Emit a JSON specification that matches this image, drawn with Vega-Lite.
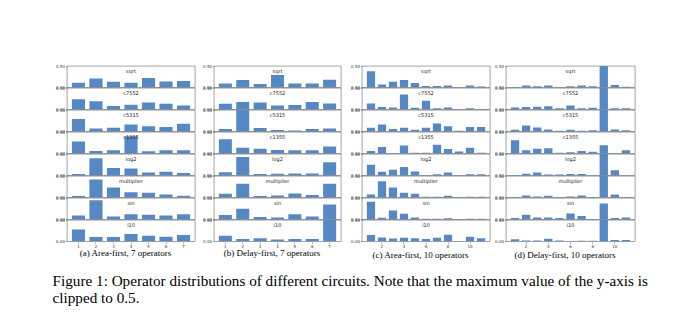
{
  "$schema": "https://vega.github.io/schema/vega-lite/v6.json",
  "padding": {"left": 52, "top": 64, "right": 0, "bottom": 0},
  "background": "white",
  "config": {
    "view": {"stroke": "#666", "strokeWidth": 0.6},
    "axis": {"labelFont": "DejaVu Sans", "labelFontSize": 4, "labelColor": "#333", "tickSize": 1.5, "tickColor": "#444", "tickWidth": 0.5, "domain": false, "grid": false, "title": null, "labelPadding": 1},
    "facet": {"spacing": 0}
  },
  "title": {"text": ["Figure 1: Operator distributions of different circuits. Note that the maximum value of the y-axis is", "clipped to 0.5."], "orient": "bottom", "anchor": "start", "font": "Liberation Serif", "fontSize": 15.2, "fontWeight": "normal", "lineHeight": 17, "offset": 14, "color": "#000", "dx": -3},
  "datasets": {
    "a": [
      {"c":"sqrt","o":1,"v":0.11},{"c":"sqrt","o":2,"v":0.21},{"c":"sqrt","o":3,"v":0.13},{"c":"sqrt","o":4,"v":0.11},{"c":"sqrt","o":5,"v":0.22},{"c":"sqrt","o":6,"v":0.14},{"c":"sqrt","o":7,"v":0.15},
      {"c":"c7552","o":1,"v":0.24},{"c":"c7552","o":2,"v":0.19},{"c":"c7552","o":3,"v":0.08},{"c":"c7552","o":4,"v":0.11},{"c":"c7552","o":5,"v":0.16},{"c":"c7552","o":6,"v":0.13},{"c":"c7552","o":7,"v":0.09},
      {"c":"c5315","o":1,"v":0.29},{"c":"c5315","o":2,"v":0.065},{"c":"c5315","o":3,"v":0.085},{"c":"c5315","o":4,"v":0.16},{"c":"c5315","o":5,"v":0.12},{"c":"c5315","o":6,"v":0.10},{"c":"c5315","o":7,"v":0.18},
      {"c":"c1355","o":1,"v":0.28},{"c":"c1355","o":2,"v":0.055},{"c":"c1355","o":3,"v":0.075},{"c":"c1355","o":4,"v":0.40},{"c":"c1355","o":5,"v":0.05},{"c":"c1355","o":6,"v":0.075},{"c":"c1355","o":7,"v":0.075},
      {"c":"log2","o":1,"v":0.03},{"c":"log2","o":2,"v":0.40},{"c":"log2","o":3,"v":0.17},{"c":"log2","o":4,"v":0.16},{"c":"log2","o":5,"v":0.065},{"c":"log2","o":6,"v":0.085},{"c":"log2","o":7,"v":0.055},
      {"c":"multiplier","o":1,"v":0.03},{"c":"multiplier","o":2,"v":0.42},{"c":"multiplier","o":3,"v":0.23},{"c":"multiplier","o":4,"v":0.12},{"c":"multiplier","o":5,"v":0.11},{"c":"multiplier","o":6,"v":0.065},{"c":"multiplier","o":7,"v":0.04},
      {"c":"sin","o":1,"v":0.09},{"c":"sin","o":2,"v":0.45},{"c":"sin","o":3,"v":0.065},{"c":"sin","o":4,"v":0.12},{"c":"sin","o":5,"v":0.11},{"c":"sin","o":6,"v":0.09},{"c":"sin","o":7,"v":0.12},
      {"c":"i10","o":1,"v":0.28},{"c":"i10","o":2,"v":0.10},{"c":"i10","o":3,"v":0.10},{"c":"i10","o":4,"v":0.17},{"c":"i10","o":5,"v":0.13},{"c":"i10","o":6,"v":0.11},{"c":"i10","o":7,"v":0.15}
    ],
    "b": [
      {"c":"sqrt","o":1,"v":0.09},{"c":"sqrt","o":2,"v":0.17},{"c":"sqrt","o":3,"v":0.08},{"c":"sqrt","o":4,"v":0.29},{"c":"sqrt","o":5,"v":0.09},{"c":"sqrt","o":6,"v":0.09},{"c":"sqrt","o":7,"v":0.18},
      {"c":"c7552","o":1,"v":0.13},{"c":"c7552","o":2,"v":0.17},{"c":"c7552","o":3,"v":0.16},{"c":"c7552","o":4,"v":0.09},{"c":"c7552","o":5,"v":0.10},{"c":"c7552","o":6,"v":0.17},{"c":"c7552","o":7,"v":0.14},
      {"c":"c5315","o":1,"v":0.055},{"c":"c5315","o":2,"v":0.6},{"c":"c5315","o":3,"v":0.08},{"c":"c5315","o":4,"v":0.03},{"c":"c5315","o":5,"v":0.02},{"c":"c5315","o":6,"v":0.055},{"c":"c5315","o":7,"v":0.07},
      {"c":"c1355","o":1,"v":0.33},{"c":"c1355","o":2,"v":0.13},{"c":"c1355","o":3,"v":0.11},{"c":"c1355","o":4,"v":0.08},{"c":"c1355","o":5,"v":0.075},{"c":"c1355","o":6,"v":0.075},{"c":"c1355","o":7,"v":0.16},
      {"c":"log2","o":1,"v":0.075},{"c":"log2","o":2,"v":0.43},{"c":"log2","o":3,"v":0.03},{"c":"log2","o":4,"v":0.04},{"c":"log2","o":5,"v":0.045},{"c":"log2","o":6,"v":0.045},{"c":"log2","o":7,"v":0.31},
      {"c":"multiplier","o":1,"v":0.085},{"c":"multiplier","o":2,"v":0.32},{"c":"multiplier","o":3,"v":0.03},{"c":"multiplier","o":4,"v":0.045},{"c":"multiplier","o":5,"v":0.09},{"c":"multiplier","o":6,"v":0.055},{"c":"multiplier","o":7,"v":0.32},
      {"c":"sin","o":1,"v":0.10},{"c":"sin","o":2,"v":0.25},{"c":"sin","o":3,"v":0.055},{"c":"sin","o":4,"v":0.045},{"c":"sin","o":5,"v":0.12},{"c":"sin","o":6,"v":0.065},{"c":"sin","o":7,"v":0.35},
      {"c":"i10","o":1,"v":0.13},{"c":"i10","o":2,"v":0.055},{"c":"i10","o":3,"v":0.075},{"c":"i10","o":4,"v":0.045},{"c":"i10","o":5,"v":0.055},{"c":"i10","o":6,"v":0.055},{"c":"i10","o":7,"v":0.6}
    ],
    "c": [
      {"c":"sqrt","o":1,"v":0.38},{"c":"sqrt","o":2,"v":0.065},{"c":"sqrt","o":3,"v":0.13},{"c":"sqrt","o":4,"v":0.175},{"c":"sqrt","o":5,"v":0.10},{"c":"sqrt","o":6,"v":0.03},{"c":"sqrt","o":7,"v":0.03},{"c":"sqrt","o":8,"v":0.045},{"c":"sqrt","o":9,"v":0.01},{"c":"sqrt","o":10,"v":0.045},{"c":"sqrt","o":11,"v":0.02},
      {"c":"c7552","o":1,"v":0.14},{"c":"c7552","o":2,"v":0.055},{"c":"c7552","o":3,"v":0.045},{"c":"c7552","o":4,"v":0.35},{"c":"c7552","o":5,"v":0.037},{"c":"c7552","o":6,"v":0.20},{"c":"c7552","o":7,"v":0.028},{"c":"c7552","o":8,"v":0.045},{"c":"c7552","o":9,"v":0.002},{"c":"c7552","o":10,"v":0.028},{"c":"c7552","o":11,"v":0.01},
      {"c":"c5315","o":1,"v":0.083},{"c":"c5315","o":2,"v":0.16},{"c":"c5315","o":3,"v":0.055},{"c":"c5315","o":4,"v":0.083},{"c":"c5315","o":5,"v":0.037},{"c":"c5315","o":6,"v":0.083},{"c":"c5315","o":7,"v":0.185},{"c":"c5315","o":8,"v":0.12},{"c":"c5315","o":9,"v":0.018},{"c":"c5315","o":10,"v":0.10},{"c":"c5315","o":11,"v":0.10},
      {"c":"c1355","o":1,"v":0.055},{"c":"c1355","o":2,"v":0.15},{"c":"c1355","o":3,"v":0.01},{"c":"c1355","o":4,"v":0.185},{"c":"c1355","o":5,"v":0.018},{"c":"c1355","o":6,"v":0.018},{"c":"c1355","o":7,"v":0.20},{"c":"c1355","o":8,"v":0.10},{"c":"c1355","o":9,"v":0.045},{"c":"c1355","o":10,"v":0.13},{"c":"c1355","o":11,"v":0.018},
      {"c":"log2","o":1,"v":0.25},{"c":"log2","o":2,"v":0.085},{"c":"log2","o":3,"v":0.13},{"c":"log2","o":4,"v":0.195},{"c":"log2","o":5,"v":0.093},{"c":"log2","o":6,"v":0.01},{"c":"log2","o":7,"v":0.028},{"c":"log2","o":8,"v":0.065},{"c":"log2","o":9,"v":0.002},{"c":"log2","o":10,"v":0.028},{"c":"log2","o":11,"v":0.028},
      {"c":"multiplier","o":1,"v":0.065},{"c":"multiplier","o":2,"v":0.38},{"c":"multiplier","o":3,"v":0.23},{"c":"multiplier","o":4,"v":0.11},{"c":"multiplier","o":5,"v":0.083},{"c":"multiplier","o":6,"v":0.018},{"c":"multiplier","o":7,"v":0.018},{"c":"multiplier","o":8,"v":0.037},{"c":"multiplier","o":9,"v":0.002},{"c":"multiplier","o":10,"v":0.018},{"c":"multiplier","o":11,"v":0.018},
      {"c":"sin","o":1,"v":0.415},{"c":"sin","o":2,"v":0.037},{"c":"sin","o":3,"v":0.21},{"c":"sin","o":4,"v":0.13},{"c":"sin","o":5,"v":0.046},{"c":"sin","o":6,"v":0.018},{"c":"sin","o":7,"v":0.018},{"c":"sin","o":8,"v":0.028},{"c":"sin","o":9,"v":0.002},{"c":"sin","o":10,"v":0.018},{"c":"sin","o":11,"v":0.018},
      {"c":"i10","o":1,"v":0.15},{"c":"i10","o":2,"v":0.09},{"c":"i10","o":3,"v":0.065},{"c":"i10","o":4,"v":0.083},{"c":"i10","o":5,"v":0.074},{"c":"i10","o":6,"v":0.055},{"c":"i10","o":7,"v":0.083},{"c":"i10","o":8,"v":0.155},{"c":"i10","o":9,"v":0.01},{"c":"i10","o":10,"v":0.11},{"c":"i10","o":11,"v":0.074}
    ],
    "d": [
      {"c":"sqrt","o":1,"v":0.01},{"c":"sqrt","o":2,"v":0.045},{"c":"sqrt","o":3,"v":0.027},{"c":"sqrt","o":4,"v":0.045},{"c":"sqrt","o":5,"v":0.003},{"c":"sqrt","o":6,"v":0.027},{"c":"sqrt","o":7,"v":0.045},{"c":"sqrt","o":8,"v":0.027},{"c":"sqrt","o":9,"v":0.6},{"c":"sqrt","o":10,"v":0.055},{"c":"sqrt","o":11,"v":0.018},
      {"c":"c7552","o":1,"v":0.045},{"c":"c7552","o":2,"v":0.055},{"c":"c7552","o":3,"v":0.064},{"c":"c7552","o":4,"v":0.073},{"c":"c7552","o":5,"v":0.027},{"c":"c7552","o":6,"v":0.09},{"c":"c7552","o":7,"v":0.027},{"c":"c7552","o":8,"v":0.036},{"c":"c7552","o":9,"v":0.6},{"c":"c7552","o":10,"v":0.027},{"c":"c7552","o":11,"v":0.027},
      {"c":"c5315","o":1,"v":0.036},{"c":"c5315","o":2,"v":0.14},{"c":"c5315","o":3,"v":0.09},{"c":"c5315","o":4,"v":0.045},{"c":"c5315","o":5,"v":0.018},{"c":"c5315","o":6,"v":0.036},{"c":"c5315","o":7,"v":0.018},{"c":"c5315","o":8,"v":0.027},{"c":"c5315","o":9,"v":0.6},{"c":"c5315","o":10,"v":0.045},{"c":"c5315","o":11,"v":0.027},
      {"c":"c1355","o":1,"v":0.31},{"c":"c1355","o":2,"v":0.073},{"c":"c1355","o":3,"v":0.11},{"c":"c1355","o":4,"v":0.12},{"c":"c1355","o":5,"v":0.018},{"c":"c1355","o":6,"v":0.027},{"c":"c1355","o":7,"v":0.055},{"c":"c1355","o":8,"v":0.036},{"c":"c1355","o":9,"v":0.19},{"c":"c1355","o":10,"v":0.01},{"c":"c1355","o":11,"v":0.073},
      {"c":"log2","o":1,"v":0.01},{"c":"log2","o":2,"v":0.04},{"c":"log2","o":3,"v":0.065},{"c":"log2","o":4,"v":0.02},{"c":"log2","o":5,"v":0.02},{"c":"log2","o":6,"v":0.03},{"c":"log2","o":7,"v":0.03},{"c":"log2","o":8,"v":0.005},{"c":"log2","o":9,"v":0.6},{"c":"log2","o":10,"v":0.12},{"c":"log2","o":11,"v":0.005},
      {"c":"multiplier","o":1,"v":0.01},{"c":"multiplier","o":2,"v":0.045},{"c":"multiplier","o":3,"v":0.02},{"c":"multiplier","o":4,"v":0.04},{"c":"multiplier","o":5,"v":0.01},{"c":"multiplier","o":6,"v":0.02},{"c":"multiplier","o":7,"v":0.045},{"c":"multiplier","o":8,"v":0.01},{"c":"multiplier","o":9,"v":0.6},{"c":"multiplier","o":10,"v":0.07},{"c":"multiplier","o":11,"v":0.005},
      {"c":"sin","o":1,"v":0.03},{"c":"sin","o":2,"v":0.11},{"c":"sin","o":3,"v":0.045},{"c":"sin","o":4,"v":0.045},{"c":"sin","o":5,"v":0.03},{"c":"sin","o":6,"v":0.14},{"c":"sin","o":7,"v":0.08},{"c":"sin","o":8,"v":0.01},{"c":"sin","o":9,"v":0.37},{"c":"sin","o":10,"v":0.03},{"c":"sin","o":11,"v":0.045},
      {"c":"i10","o":1,"v":0.05},{"c":"i10","o":2,"v":0.02},{"c":"i10","o":3,"v":0.02},{"c":"i10","o":4,"v":0.06},{"c":"i10","o":5,"v":0.02},{"c":"i10","o":6,"v":0.01},{"c":"i10","o":7,"v":0.015},{"c":"i10","o":8,"v":0.015},{"c":"i10","o":9,"v":0.6},{"c":"i10","o":10,"v":0.03},{"c":"i10","o":11,"v":0.03}
    ]
  },
  "spacing": 8,
  "hconcat": [
    {
      "spacing": 6,
      "hconcat": [
        {
          "data": {"name": "a"},
          "facet": {"row": {"field": "c", "type": "nominal", "sort": ["sqrt","c7552","c5315","c1355","log2","multiplier","sin","i10"], "header": {"labels": false, "title": null}}},
          "spacing": 0,
          "bounds": "flush",
          "title": {"text": "(a) Area-first, 7 operators", "orient": "bottom", "anchor": "middle", "font": "Liberation Serif", "fontSize": 9, "fontWeight": "normal", "offset": 0, "color": "#000"},
          "spec": {
            "width": 128, "height": 21.4,
            "layer": [
              {"mark": {"type": "bar", "clip": true, "color": "#5688c4"},
               "encoding": {
                 "x": {"field": "o", "type": "ordinal", "scale": {"paddingInner": 0.25, "paddingOuter": 0.28}, "axis": {"labelAngle": 0}},
                 "y": {"field": "v", "type": "quantitative", "scale": {"domain": [0, 0.5]}, "axis": {"values": [0, 0.25, 0.5], "format": ".2f", "labelOverlap": false}}}},
              {"transform": [{"filter": "datum.o == 4"}],
               "mark": {"type": "text", "fontSize": 5, "font": "DejaVu Sans", "color": "#222"},
               "encoding": {"x": {"field": "o", "type": "ordinal"}, "y": {"datum": 0.38}, "text": {"field": "c"}}}
            ]
          }
        },
        {
          "data": {"name": "b"},
          "facet": {"row": {"field": "c", "type": "nominal", "sort": ["sqrt","c7552","c5315","c1355","log2","multiplier","sin","i10"], "header": {"labels": false, "title": null}}},
          "spacing": 0,
          "bounds": "flush",
          "title": {"text": "(b) Delay-first, 7 operators", "orient": "bottom", "anchor": "middle", "font": "Liberation Serif", "fontSize": 9, "fontWeight": "normal", "offset": 0, "color": "#000"},
          "spec": {
            "width": 127, "height": 21.4,
            "layer": [
              {"mark": {"type": "bar", "clip": true, "color": "#5688c4"},
               "encoding": {
                 "x": {"field": "o", "type": "ordinal", "scale": {"paddingInner": 0.25, "paddingOuter": 0.28}, "axis": {"labelAngle": 0}},
                 "y": {"field": "v", "type": "quantitative", "scale": {"domain": [0, 0.5]}, "axis": {"values": [0, 0.25, 0.5], "format": ".2f", "labelOverlap": false}}}},
              {"transform": [{"filter": "datum.o == 4"}],
               "mark": {"type": "text", "fontSize": 5, "font": "DejaVu Sans", "color": "#222"},
               "encoding": {"x": {"field": "o", "type": "ordinal"}, "y": {"datum": 0.38}, "text": {"field": "c"}}}
            ]
          }
        }
      ]
    },
    {
      "spacing": 3,
      "hconcat": [
        {
          "data": {"name": "c"},
          "facet": {"row": {"field": "c", "type": "nominal", "sort": ["sqrt","c7552","c5315","c1355","log2","multiplier","sin","i10"], "header": {"labels": false, "title": null}}},
          "spacing": 0,
          "bounds": "flush",
          "title": {"text": "(c) Area-first, 10 operators", "orient": "bottom", "anchor": "middle", "font": "Liberation Serif", "fontSize": 9, "fontWeight": "normal", "offset": 2, "color": "#000"},
          "spec": {
            "width": 128, "height": 21.4,
            "layer": [
              {"mark": {"type": "bar", "clip": true, "color": "#5688c4"},
               "encoding": {
                 "x": {"field": "o", "type": "ordinal", "scale": {"paddingInner": 0.25, "paddingOuter": 0.44}, "axis": {"labelAngle": 0, "values": [2, 4, 6, 8, 10]}},
                 "y": {"field": "v", "type": "quantitative", "scale": {"domain": [0, 0.5]}, "axis": {"values": [0, 0.25, 0.5], "format": ".2f", "labelOverlap": false}}}},
              {"transform": [{"filter": "datum.o == 6"}],
               "mark": {"type": "text", "fontSize": 5, "font": "DejaVu Sans", "color": "#222"},
               "encoding": {"x": {"field": "o", "type": "ordinal"}, "y": {"datum": 0.38}, "text": {"field": "c"}}}
            ]
          }
        },
        {
          "data": {"name": "d"},
          "facet": {"row": {"field": "c", "type": "nominal", "sort": ["sqrt","c7552","c5315","c1355","log2","multiplier","sin","i10"], "header": {"labels": false, "title": null}}},
          "spacing": 0,
          "bounds": "flush",
          "title": {"text": "(d) Delay-first, 10 operators", "orient": "bottom", "anchor": "middle", "font": "Liberation Serif", "fontSize": 9, "fontWeight": "normal", "offset": 2, "color": "#000"},
          "spec": {
            "width": 129, "height": 21.4,
            "layer": [
              {"mark": {"type": "bar", "clip": true, "color": "#5688c4"},
               "encoding": {
                 "x": {"field": "o", "type": "ordinal", "scale": {"paddingInner": 0.25, "paddingOuter": 0.44}, "axis": {"labelAngle": 0, "values": [2, 4, 6, 8, 10]}},
                 "y": {"field": "v", "type": "quantitative", "scale": {"domain": [0, 0.5]}, "axis": {"values": [0, 0.25, 0.5], "format": ".2f", "labelOverlap": false}}}},
              {"transform": [{"filter": "datum.o == 6"}],
               "mark": {"type": "text", "fontSize": 5, "font": "DejaVu Sans", "color": "#222"},
               "encoding": {"x": {"field": "o", "type": "ordinal"}, "y": {"datum": 0.38}, "text": {"field": "c"}}}
            ]
          }
        }
      ]
    }
  ]
}
